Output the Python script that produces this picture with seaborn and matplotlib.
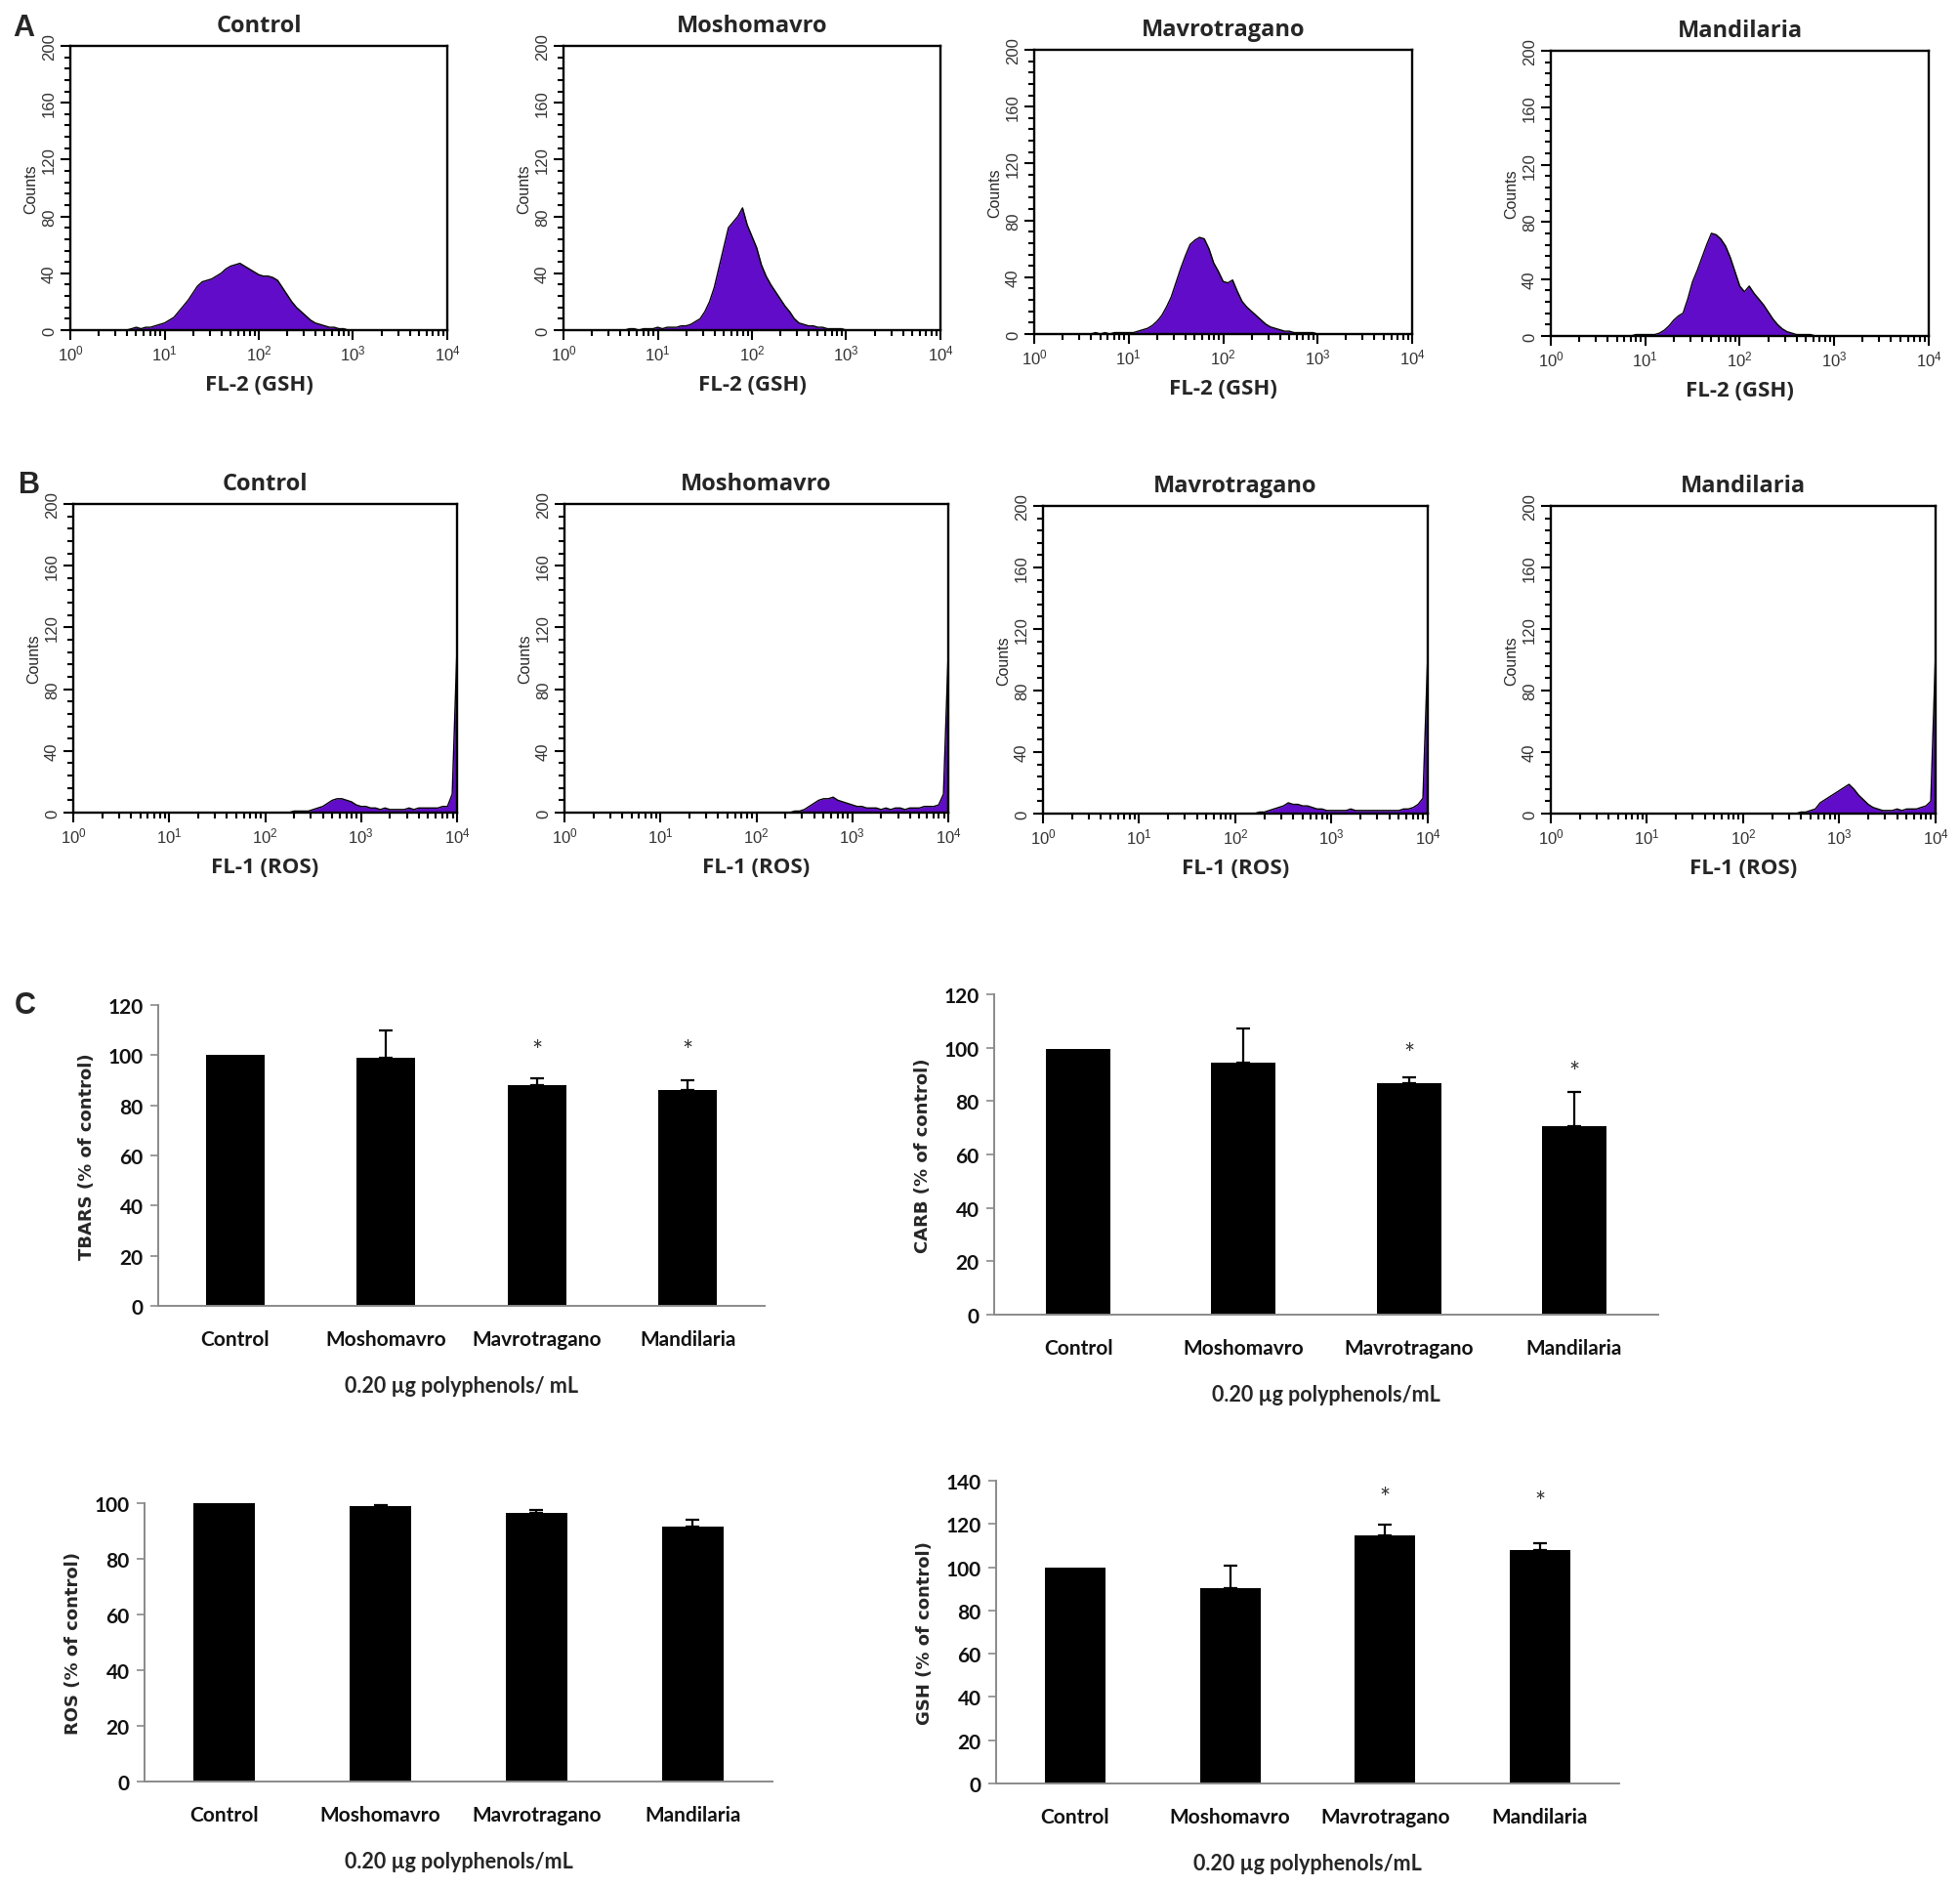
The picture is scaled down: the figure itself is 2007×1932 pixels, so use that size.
import matplotlib
matplotlib.use("Agg")
import matplotlib.pyplot as plt
import matplotlib.ticker as mticker
import numpy as np
import seaborn as sns

# ---------------- data ----------------
SAMPLES = ["Control", "Moshomavro", "Mavrotragano", "Mandilaria"]

# flow cytometry histograms: counts per 0.05-decade bin from 10^0 to 10^4
BIN_STEP = 0.05
LOG_BINS = np.round(np.arange(0, 4.0 + BIN_STEP / 2, BIN_STEP), 2)

# (first non-empty bin in log10 units, counts from there on)
GSH_CONTROL = (0.65, [1, 2, 1, 2, 2, 3, 4, 5, 7, 9, 13, 17, 21, 26, 31, 34, 35, 36, 38, 40,
                      43, 45, 46, 47, 45, 43, 41, 39, 38, 38, 37, 35, 30, 25, 20, 16, 13, 10,
                      7, 5, 4, 3, 2, 2, 1, 1])
GSH_MOSHO = (0.70, [1, 1, 0, 1, 1, 1, 2, 1, 2, 2, 2, 3, 3, 4, 6, 8, 13, 20, 30, 44, 58, 72,
                    76, 80, 86, 74, 66, 58, 46, 38, 32, 27, 22, 17, 13, 8, 5, 4, 3, 3, 2, 2,
                    1, 1, 1, 1])
GSH_MAVRO = (0.65, [1, 0, 1, 0, 1, 1, 1, 1, 1, 2, 3, 4, 6, 9, 13, 19, 26, 36, 46, 55, 63, 66,
                    68, 67, 60, 50, 44, 37, 36, 38, 30, 23, 19, 16, 13, 10, 7, 5, 4, 3, 2, 2,
                    1, 1, 1, 1, 1])
GSH_MANDI = (0.90, [1, 1, 1, 1, 1, 2, 4, 7, 11, 14, 16, 26, 38, 46, 55, 64, 72, 71, 68, 63,
                    55, 45, 35, 31, 35, 30, 26, 22, 17, 12, 8, 5, 3, 2, 1, 1, 1, 1])

ROS_CONTROL = (2.30, [1, 1, 1, 1, 2, 3, 4, 6, 8, 9, 9, 8, 7, 5, 4, 4, 3, 3, 2, 3, 2, 2, 2, 2,
                      3, 2, 3, 3, 3, 3, 3, 4, 4, 12, 107])
ROS_MOSHO = (2.40, [1, 1, 2, 4, 6, 8, 9, 9, 10, 8, 7, 6, 5, 4, 4, 3, 3, 3, 2, 3, 2, 3, 3, 2,
                    3, 3, 3, 4, 4, 4, 5, 12, 104])
ROS_MAVRO = (2.25, [1, 1, 2, 3, 4, 5, 7, 6, 6, 5, 5, 4, 3, 3, 2, 2, 2, 2, 2, 3, 2, 2, 2, 2,
                    2, 2, 2, 2, 2, 2, 3, 3, 4, 6, 10, 104])
ROS_MANDI = (2.60, [1, 1, 2, 3, 7, 9, 11, 13, 15, 17, 19, 16, 12, 9, 6, 4, 3, 2, 2, 2, 3, 2,
                    3, 3, 3, 4, 5, 8, 105])

# biochemical markers, % of control (mean, upper SD)
TBARS_MEAN = [100, 99, 88, 86]
TBARS_SD = [0, 11, 2.6, 4.0]
CARB_MEAN = [99.5, 94.3, 86.6, 70.6]
CARB_SD = [0, 12.8, 2.3, 12.7]
ROS_MEAN = [100, 99.0, 96.5, 91.6]
ROS_SD = [0, 0.4, 1.1, 2.4]
GSH_MEAN = [100, 90.5, 114.9, 107.9]
GSH_SD = [0, 10.1, 4.7, 3.0]

TBARS_SIG = [False, False, True, True]
CARB_SIG = [False, False, True, True]
ROS_SIG = [False, False, False, False]
GSH_SIG = [False, False, True, True]

# ---------------- layout (pixels of the 2008x1933 canvas) ----------------
W, H = 2008, 1933
PURPLE = "#600cc8"
AXIS_GRAY = "#8a8a8a"

sns.set_theme(style="white")
plt.rcParams["font.family"] = ["Lato", "DejaVu Sans"]
plt.rcParams["mathtext.default"] = "regular"

fig = plt.figure(figsize=(W / 100, H / 100), dpi=100)


def add_axes_px(left, top, right, bottom):
    return fig.add_axes([left / W, 1 - bottom / H, (right - left) / W, (bottom - top) / H])


def counts_for(hist):
    start, values = hist
    arr = np.zeros(len(LOG_BINS))
    i0 = int(round(start / BIN_STEP))
    arr[i0:i0 + len(values)] = values
    return arr


def draw_histogram(ax, hist, title, xlabel):
    x = 10 ** LOG_BINS
    y = counts_for(hist)
    ax.fill_between(x, y, color=PURPLE, linewidth=0)
    sns.lineplot(x=x, y=y, color="black", linewidth=1.0, ax=ax)

    ax.set_xscale("log")
    ax.set_xlim(1, 1e4)
    ax.set_ylim(0, 200)
    ax.xaxis.set_major_locator(mticker.LogLocator(base=10, numticks=10))
    ax.xaxis.set_minor_locator(mticker.LogLocator(base=10, subs=np.arange(2, 10), numticks=20))
    ax.xaxis.set_major_formatter(mticker.LogFormatterMathtext())
    ax.xaxis.set_minor_formatter(mticker.NullFormatter())
    ax.yaxis.set_major_locator(mticker.MultipleLocator(40))
    ax.yaxis.set_minor_locator(mticker.MultipleLocator(8))

    for side in ax.spines.values():
        side.set_visible(True)
        side.set_color("black")
        side.set_linewidth(1.7)

    ax.tick_params(which="both", direction="out", color="black", width=1.5,
                   bottom=True, left=True, top=False, right=False)
    ax.tick_params(which="major", length=7)
    ax.tick_params(which="minor", length=4)
    ax.tick_params(axis="x", which="major", labelsize=12, pad=3, labelcolor="#333333")
    ax.tick_params(axis="y", which="major", labelsize=12, pad=3, labelcolor="#333333")
    for lab in ax.get_xticklabels() + ax.get_yticklabels():
        lab.set_fontfamily("Liberation Sans")
    for lab in ax.get_yticklabels():
        lab.set_rotation(90)
        lab.set_va("center")

    ax.set_ylabel("Counts", fontsize=11.5, fontfamily="Liberation Sans", labelpad=3)
    ax.set_xlabel(xlabel, fontsize=16, fontweight="bold", fontfamily="Open Sans", labelpad=8)
    ax.set_title(title, fontsize=17, fontweight="bold", fontfamily="Open Sans", pad=11)


def draw_bars(ax, means, sds, sig, ymax, ylabel, xlabel, star_y):
    sns.barplot(x=SAMPLES, y=means, color="black", width=0.39, errorbar=None,
                saturation=1, edgecolor="black", linewidth=0, ax=ax)
    pos = np.arange(len(SAMPLES))
    has_err = np.array(sds) > 0
    ax.errorbar(pos[has_err], np.array(means)[has_err],
                yerr=[np.zeros(has_err.sum()), np.array(sds)[has_err]],
                fmt="none", ecolor="black", elinewidth=1.6, capsize=5, capthick=1.6,
                clip_on=False, zorder=3)
    for i, flag in enumerate(sig):
        if flag:
            ax.text(i, star_y[i], "*", ha="center", va="center", fontsize=19,
                    color="#333333")

    ax.set_xlim(-0.51, 3.51)
    ax.set_ylim(0, ymax)
    ax.yaxis.set_major_locator(mticker.MultipleLocator(20))
    for name in ("top", "right"):
        ax.spines[name].set_visible(False)
    for name in ("left", "bottom"):
        ax.spines[name].set_color(AXIS_GRAY)
        ax.spines[name].set_linewidth(1.4)
    ax.tick_params(axis="x", length=0, pad=17, labelsize=15)
    ax.tick_params(axis="y", direction="out", length=6, width=1.2, color=AXIS_GRAY,
                   left=True, pad=5, labelsize=15)
    for lab in ax.get_xticklabels() + ax.get_yticklabels():
        lab.set_fontweight("bold")
        lab.set_color("#111111")
    ax.set_ylabel(ylabel, fontsize=13, fontweight="bold", fontfamily="DejaVu Sans",
                  labelpad=9)
    ax.set_xlabel(xlabel, fontsize=15.5, fontweight="bold", labelpad=20)


# ---------------- panel A: GSH histograms ----------------
rects_a = [(72, 48, 458, 339), (577, 48, 963, 339), (1059, 52, 1446, 343), (1588, 53, 1975, 345)]
for rect, title, hist in zip(rects_a, SAMPLES, [GSH_CONTROL, GSH_MOSHO, GSH_MAVRO, GSH_MANDI]):
    draw_histogram(add_axes_px(*rect), hist, title, "FL-2 (GSH)")

# ---------------- panel B: ROS histograms ----------------
rects_b = [(75, 517, 468, 833), (578, 517, 971, 833), (1068, 519, 1462, 834), (1588, 519, 1982, 834)]
for rect, title, hist in zip(rects_b, SAMPLES, [ROS_CONTROL, ROS_MOSHO, ROS_MAVRO, ROS_MANDI]):
    draw_histogram(add_axes_px(*rect), hist, title, "FL-1 (ROS)")

# ---------------- panel C: bar charts ----------------
ax_tbars = add_axes_px(162, 1030, 783, 1338)
draw_bars(ax_tbars, TBARS_MEAN, TBARS_SD, TBARS_SIG, 120, "TBARS (% of control)",
          "0.20 µg polyphenols/ mL", [0, 0, 101.5, 101.5])

ax_carb = add_axes_px(1018, 1019, 1698, 1347)
draw_bars(ax_carb, CARB_MEAN, CARB_SD, CARB_SIG, 120, "CARB (% of control)",
          "0.20 µg polyphenols/mL", [0, 0, 97.5, 90.5])

ax_ros = add_axes_px(148, 1540, 791, 1825)
draw_bars(ax_ros, ROS_MEAN, ROS_SD, ROS_SIG, 100, "ROS (% of control)",
          "0.20 µg polyphenols/mL", [0, 0, 0, 0])

ax_gsh = add_axes_px(1020, 1517, 1658, 1827)
draw_bars(ax_gsh, GSH_MEAN, GSH_SD, GSH_SIG, 140, "GSH (% of control)",
          "0.20 µg polyphenols/mL", [0, 0, 131.5, 130])

# panel letters
for letter, (px, py) in {"A": (24, 29), "B": (30, 497), "C": (26, 1030)}.items():
    fig.text(px / W, 1 - py / H, letter, fontsize=22, fontweight="bold",
             fontfamily="Liberation Sans", ha="center", va="center")

fig.savefig("out.png", dpi=100)
